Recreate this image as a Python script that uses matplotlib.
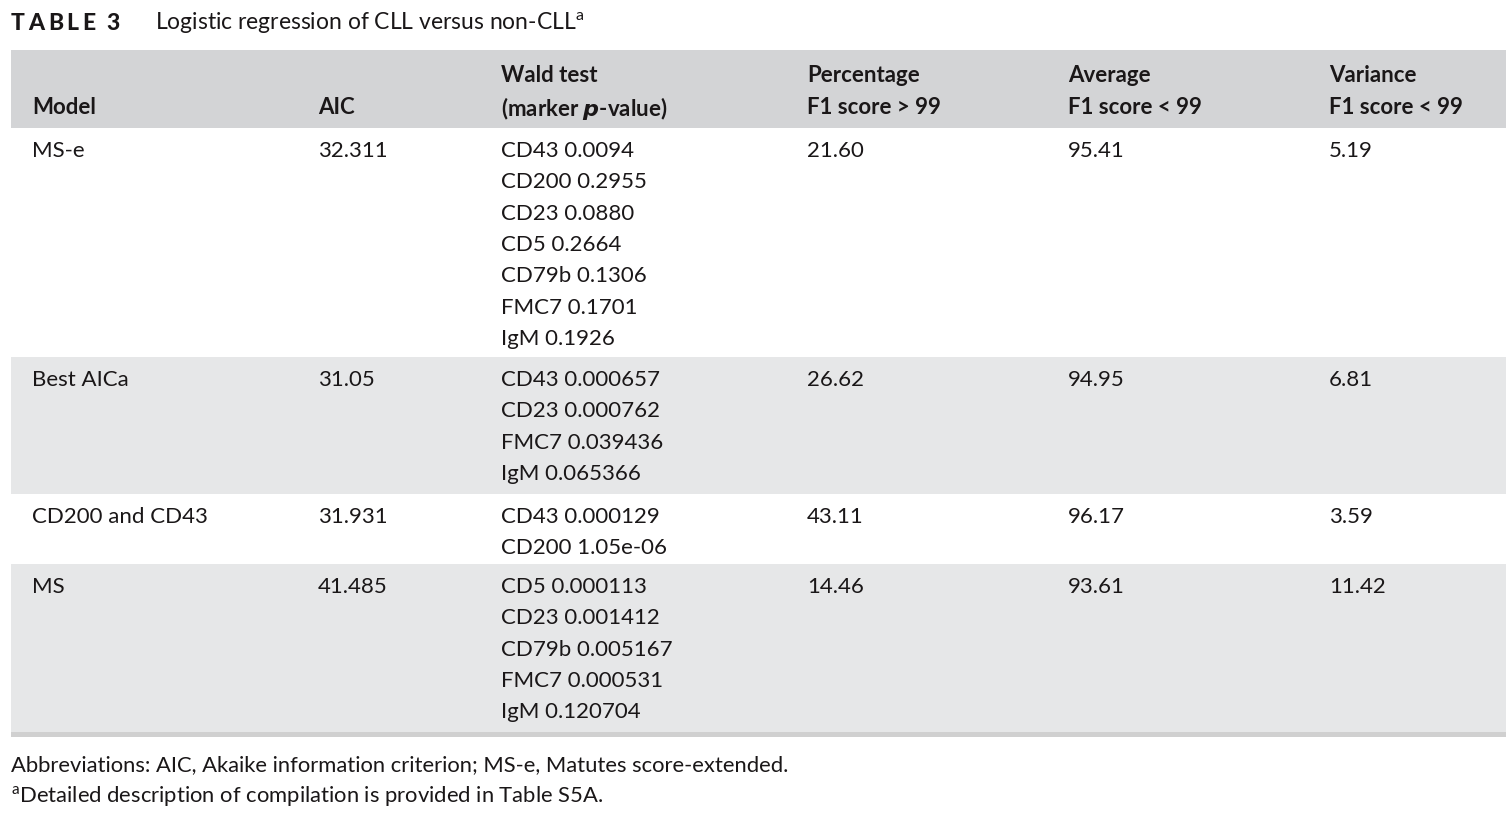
import matplotlib.pyplot as plt
from matplotlib.patches import Rectangle

plt.rcParams['font.family'] = ['Lato', 'DejaVu Sans']

title_label = "TABLE 3"
title_text = "Logistic regression of CLL versus non-CLL$^{\\mathregular{a}}$"

header_top = ["", "", "Wald test", "Percentage", "Average", "Variance"]
header_bot = ["Model", "AIC", "(marker $\\boldsymbol{p}$-value)", "F1 score > 99",
              "F1 score < 99", "F1 score < 99"]

models = ["MS-e", "Best AICa", "CD200 and CD43", "MS"]
aic = ["32.311", "31.05", "31.931", "41.485"]
wald = [
    ["CD43 0.0094", "CD200 0.2955", "CD23 0.0880", "CD5 0.2664",
     "CD79b 0.1306", "FMC7 0.1701", "IgM 0.1926"],
    ["CD43 0.000657", "CD23 0.000762", "FMC7 0.039436", "IgM 0.065366"],
    ["CD43 0.000129", "CD200 1.05e-06"],
    ["CD5 0.000113", "CD23 0.001412", "CD79b 0.005167", "FMC7 0.000531",
     "IgM 0.120704"],
]
pct_f1 = ["21.60", "26.62", "43.11", "14.46"]
avg_f1 = ["95.41", "94.95", "96.17", "93.61"]
var_f1 = ["5.19", "6.81", "3.59", "11.42"]

footnotes = ["Abbreviations: AIC, Akaike information criterion; MS-e, Matutes score-extended.",
             "$^{\\mathregular{a}}$Detailed description of compilation is provided in Table S5A."]

# layout in pixels
W, H = 1506, 816
col_x = [32, 318, 501, 807, 1068, 1329]
left, right = 11, 1506
head_top, head_bot = 50, 128
row_bounds = [128, 357, 494, 564, 733]
row_colors = ["white", "#e6e7e8", "white", "#e6e7e8"]
line_h = 31.3
fs = 16
ink = "#1a1718"

fig = plt.figure(figsize=(W / 100, H / 100), dpi=100)
ax = fig.add_axes([0, 0, 1, 1])
ax.set_xlim(0, W)
ax.set_ylim(H, 0)
ax.axis("off")

# letter-spaced "TABLE 3"
renderer = fig.canvas.get_renderer()
x = 11
for ch in title_label:
    t = ax.text(x, 23, ch, fontsize=16.5, fontweight="black", va="center",
                color=ink)
    bb = t.get_window_extent(renderer)
    x += bb.width + (3.5 if ch != " " else 2)
ax.text(155, 23, title_text, fontsize=16.5, va="center", color=ink)

ax.add_patch(Rectangle((left, head_top), right - left, head_bot - head_top,
                       facecolor="#d3d4d6", edgecolor="none"))
for j in range(6):
    if header_top[j]:
        ax.text(col_x[j], 76, header_top[j], fontsize=fs, fontweight="bold",
                va="center", color=ink)
    ax.text(col_x[j], 108, header_bot[j], fontsize=fs, fontweight="bold",
            va="center", color=ink)

for i in range(len(models)):
    y0, y1 = row_bounds[i], row_bounds[i + 1]
    ax.add_patch(Rectangle((left, y0), right - left, y1 - y0,
                           facecolor=row_colors[i], edgecolor="none"))
    yc = y0 + 23
    cells = [models[i], aic[i], None, pct_f1[i], avg_f1[i], var_f1[i]]
    for j, c in enumerate(cells):
        if c is not None:
            ax.text(col_x[j], yc, c, fontsize=fs, va="center", color=ink)
    for k, w in enumerate(wald[i]):
        ax.text(col_x[2], yc + k * line_h, w, fontsize=fs, va="center",
                color=ink)

ax.add_patch(Rectangle((left, 732), right - left, 5, facecolor="#d0d0d0",
                       edgecolor="none"))

ax.text(11, 765, footnotes[0], fontsize=15.8, va="center", color=ink)
ax.text(11, 797, footnotes[1], fontsize=15.8, va="center", color=ink)

fig.savefig("out.png", dpi=100)
